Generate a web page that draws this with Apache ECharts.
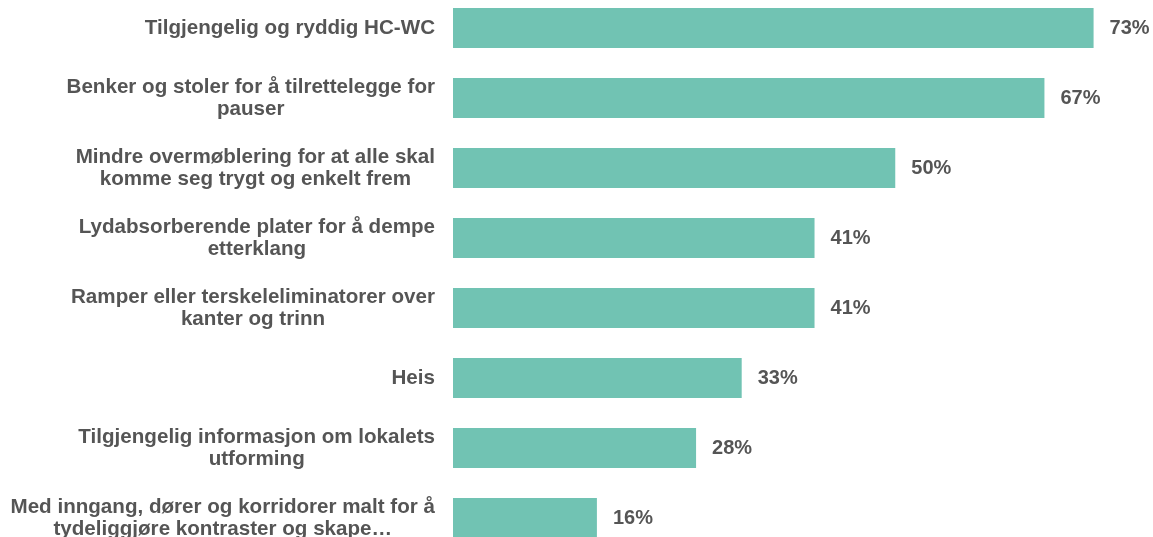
<!DOCTYPE html>
<html><head><meta charset="utf-8">
<script src="https://cdn.jsdelivr.net/npm/echarts@6/dist/echarts.min.js"></script>
<style>html,body{margin:0;padding:0;background:#fff}#c{width:1153px;height:537px}</style>
</head><body><div id="c"></div>
<script>
const categories = [
  "Tilgjengelig og ryddig HC-WC",
  "Benker og stoler for å tilrettelegge for\npauser",
  "Mindre overmøblering for at alle skal\nkomme seg trygt og enkelt frem",
  "Lydabsorberende plater for å dempe\netterklang",
  "Ramper eller terskeleliminatorer over\nkanter og trinn",
  "Heis",
  "Tilgjengelig informasjon om lokalets\nutforming",
  "Med inngang, dører og korridorer malt for å\ntydeliggjøre kontraster og skape…"
];
const values = [73.0, 67.4, 50.4, 41.2, 41.2, 32.9, 27.7, 16.4];

const chart = echarts.init(document.getElementById('c'), null, {renderer: 'canvas'});
chart.setOption({
  animation: false,
  grid: {left: 453, right: -2, top: -7, height: 560, containLabel: false, outerBoundsMode: 'none'},
  xAxis: {type: 'value', min: 0, max: 80, show: false},
  yAxis: {
    type: 'category', data: categories, inverse: true,
    axisLine: {show: false}, axisTick: {show: false}, splitLine: {show: false},
    axisLabel: {
      margin: 18,
      formatter: v => v.split('\n').map(l => '{c|' + l + '}').join('\n'),
      rich: {c: {align: 'center', fontFamily: 'Liberation Sans, Arial, sans-serif', fontWeight: 'bold', fontSize: 20.6, color: '#555555', lineHeight: 22}}
    }
  },
  series: [{
    type: 'bar', data: values, barWidth: 40,
    itemStyle: {color: '#71c3b3'},
    label: {
      show: true, position: 'right', distance: 16,
      formatter: p => Math.round(p.value) + '%',
      fontFamily: 'Liberation Sans, Arial, sans-serif', fontWeight: 'bold', fontSize: 20, color: '#555555'
    }
  }]
});
</script></body></html>
